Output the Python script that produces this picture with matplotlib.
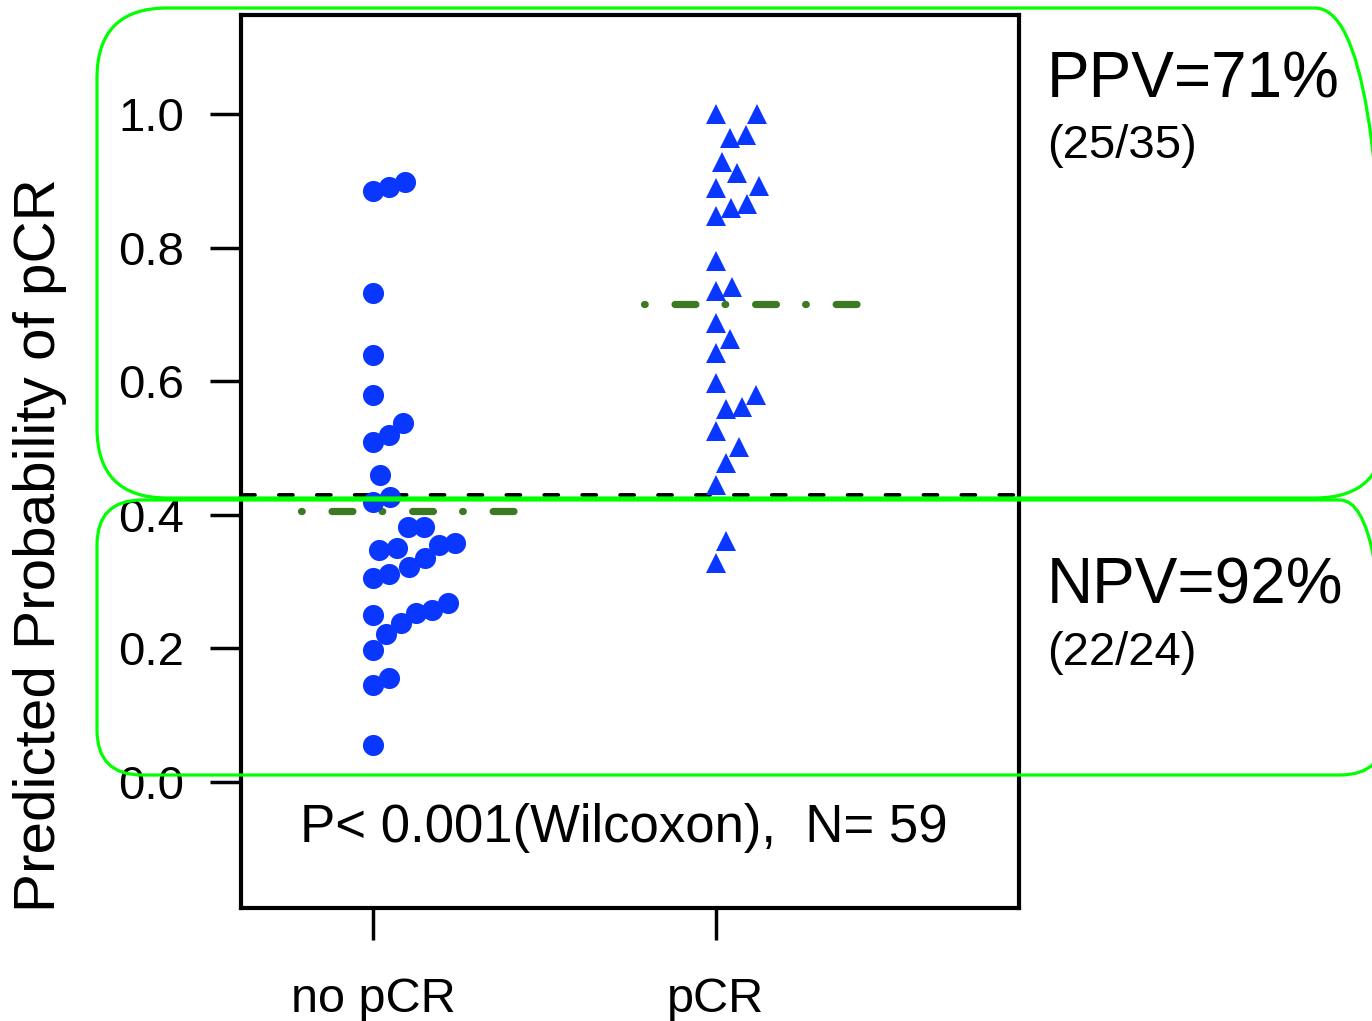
import numpy as np
import matplotlib
matplotlib.use("Agg")
import matplotlib.pyplot as plt
from matplotlib.patches import FancyBboxPatch

plt.rcParams['font.family'] = ['Liberation Sans', 'DejaVu Sans']
plt.rcParams['lines.scale_dashes'] = False

# Data: predicted probability of pCR per patient, listed in placement order
groups = ["no pCR", "pCR"]
no_pcr = [0.055, 0.145, 0.156, 0.197, 0.222, 0.237, 0.250, 0.252, 0.257, 0.305,
          0.311, 0.267, 0.347, 0.350, 0.322, 0.335, 0.355, 0.357, 0.381, 0.381,
          0.419, 0.460, 0.427, 0.509, 0.520, 0.537, 0.579, 0.639, 0.733,
          0.885, 0.891, 0.898]
pcr = [0.327, 0.360, 0.445, 0.478, 0.501, 0.526, 0.559, 0.561, 0.580, 0.597,
       0.642, 0.663, 0.687, 0.736, 0.742, 0.780, 0.847, 0.859, 0.865, 0.889,
       0.892, 0.928, 0.964, 0.969, 1.000, 1.000, 0.912]
cutoff = 0.43
yticks = [0.0, 0.2, 0.4, 0.6, 0.8, 1.0]
ppv_text = ["PPV=71%", "(25/35)"]
npv_text = ["NPV=92%", "(22/24)"]
stat_text = "P< 0.001(Wilcoxon),  N= 59"
ylabel = "Predicted Probability of pCR"

W, H = 1372, 1021
fig = plt.figure(figsize=(W / 100, H / 100), dpi=100)
ax = fig.add_axes([241 / W, 1 - 908 / H, 778 / W, 893 / H])
ax.set_xlim(0.6152, 2.8834)
ax.set_ylim(-0.1894, 1.149)


def swarm(vals, a_px, b_px):
    # one-sided beeswarm: each point goes to the smallest offset free of collisions
    sx = ax.transData.transform((1, 0))[0] - ax.transData.transform((0, 0))[0]
    sy = ax.transData.transform((0, 1))[1] - ax.transData.transform((0, 0))[1]
    placed = []
    for v in vals:
        y = v * sy
        cands = [0.0]
        for px, py in placed:
            dy = abs(py - y)
            if dy < b_px:
                cands.append(px + a_px * np.sqrt(1 - (dy / b_px) ** 2))
        for c in sorted(cands):
            if all(((c - px) / a_px) ** 2 + ((y - py) / b_px) ** 2 >= 1 - 1e-6
                   for px, py in placed):
                break
        placed.append((c, y))
    return np.array([p[0] for p in placed]) / sx


blue = '#0a37ff'
green = '#3b7a23'

for i, (vals, mk, ms, b) in enumerate([(no_pcr, 'o', 15.2, 30), (pcr, '^', 14.5, 28)]):
    xpos = i + 1
    off = swarm(vals, 16, b)
    ax.plot(xpos + off, vals, linestyle='none', marker=mk, ms=ms,
            color=blue, markeredgewidth=0, zorder=3)
    ax.hlines(np.mean(vals), xpos - 0.21, xpos + 0.41, color=green, lw=5.2,
              linestyles=[(0, (0.5, 21.5, 15, 21))], capstyle='round', zorder=2)

ax.axhline(cutoff, color='black', lw=2.8, dashes=(10, 17.3), dash_capstyle='round', zorder=2)

ax.set_xticks([1, 2])
ax.set_xticklabels(groups, fontsize=35)
ax.set_yticks(yticks)
ax.set_yticklabels([f"{t:.1f}" for t in yticks], fontsize=34)
ax.tick_params(axis='y', length=22, width=2.5, pad=19, direction='out')
ax.tick_params(axis='x', length=23, width=2.5, pad=27, direction='out')
for s in ax.spines.values():
    s.set_linewidth(3)

fig.text(40 / W, 1 - 545 / H, ylabel, rotation=90, ha='center', va='center', fontsize=42)
fig.text(624 / W, 1 - 842 / H, stat_text, ha='center', va='baseline', fontsize=38)
fig.text(1047 / W, 1 - 97 / H, ppv_text[0], ha='left', va='baseline', fontsize=46)
fig.text(1047 / W, 1 - 158 / H, ppv_text[1], ha='left', va='baseline', fontsize=34)
fig.text(1047 / W, 1 - 604 / H, npv_text[0], ha='left', va='baseline', fontsize=46)
fig.text(1047 / W, 1 - 665 / H, npv_text[1], ha='left', va='baseline', fontsize=34)

# green rounded highlight boxes (in inches so corners stay round)
for (x0, y0, x1, y1, r) in [(97, 8, 1385, 498, 0.7), (97, 500, 1385, 775, 0.45)]:
    box = FancyBboxPatch((x0 / 100, (H - y1) / 100), (x1 - x0) / 100, (y1 - y0) / 100,
                         boxstyle=f"round,pad=0,rounding_size={r}",
                         transform=fig.dpi_scale_trans, fill=False,
                         edgecolor='#00ff00', lw=2.3, zorder=5, clip_on=False)
    fig.patches.append(box)

fig.savefig('out.png', dpi=100)
